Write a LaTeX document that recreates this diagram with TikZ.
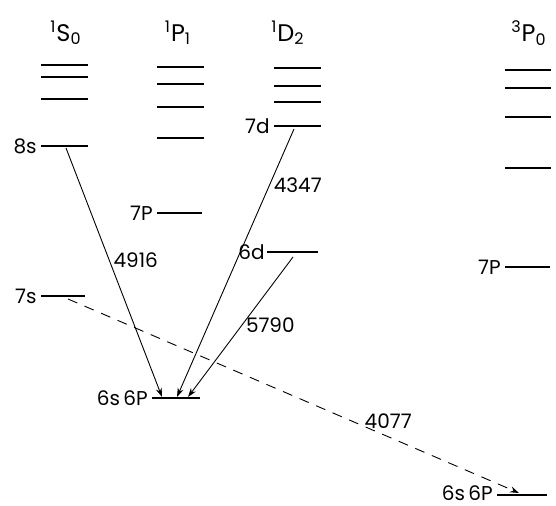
\documentclass[tikz,border=0pt]{standalone}
\usepackage{fontspec}
\setmainfont{Poppins}
\usepackage{tikz}
\usetikzlibrary{arrows.meta, positioning, calc}

\begin{document}
\begin{tikzpicture}[
    x=0.5pt, y=-0.5pt,
    font=\fontsize{10}{12}\selectfont,
    level/.style={line width=1.1pt},
    term/.style={font=\fontsize{12}{14}\selectfont, inner sep=1pt},
    lab/.style={anchor=east, inner sep=2pt},
    trans/.style={-{Stealth[length=4.5pt, width=3pt]}, line width=0.45pt},
    fwd/.style={trans, dash pattern=on 5pt off 4pt},
    wl/.style={inner sep=2pt}
]
\useasboundingbox (0,0) rectangle (556,506);

% Term headings
\node[term] (hS) at (66,33) {\textsuperscript{1}S\textsubscript{0}};
\node[term] (hP) at (178,33) {\textsuperscript{1}P\textsubscript{1}};
\node[term] (hD) at (288,33) {\textsuperscript{1}D\textsubscript{2}};
\node[term] (hT) at (529,33) {\textsuperscript{3}P\textsubscript{0}};

% 1S0 levels
\foreach \y in {65,77,99} \draw[level] (41,\y) -- (88,\y);
\draw[level] (41,146) coordinate (s8) -- (88,146);
\node[lab] (l8s) at (s8) {8s};
\coordinate (s8t) at (66,148);
\draw[level] (41,296) coordinate (s7) -- (85,296);
\node[lab] (l7s) at (s7) {7s};
\coordinate (s7t) at (68,299);

% 1P1 levels
\foreach \y in {67,84,107,138} \draw[level] (157,\y) -- (204,\y);
\draw[level] (157,213) coordinate (p7) -- (202,213);
\node[lab] (l7p) at (p7) {7P};
\draw[level] (152,398) coordinate (g) -- (200,398);
\node[lab] (lg) at (g) {6s\,6P};
\coordinate (ga) at (162,397);
\coordinate (gb) at (177,397);
\coordinate (gc) at (188,397);

% 1D2 levels
\foreach \y in {68,86,102} \draw[level] (274,\y) -- (321,\y);
\draw[level] (274,126) coordinate (d7) -- (321,126);
\node[lab] (l7d) at (d7) {7d};
\coordinate (d7t) at (294,129);
\draw[level] (267,252) coordinate (d6) -- (318,252);
\node[lab, inner sep=1pt] (l6d) at (d6) {6d};
\coordinate (d6t) at (293,257);

% 3P0 levels
\foreach \y in {70,88,117,168} \draw[level] (505,\y) -- (551,\y);
\draw[level] (505,267) coordinate (t7) -- (550,267);
\node[lab] (l7t) at (t7) {7P};
\draw[level] (497,495) coordinate (m) -- (547,495);
\node[lab, yshift=1pt] (lm) at (m) {6s\,6P};
\coordinate (mt) at (519,493);

% Transitions
\draw[trans] (s8t) -- (ga) node[wl, pos=0.45, anchor=west] {4916};
\draw[trans] (d7t) -- (gb) node[wl, pos=0.21, anchor=west] {4347};
\draw[trans] (d6t) -- (gc) node[wl, pos=0.49, anchor=west] {5790};
\draw[fwd] (s7t) -- (mt) node[wl, pos=0.71, anchor=south, yshift=2pt] {4077};

\end{tikzpicture}
\end{document}
